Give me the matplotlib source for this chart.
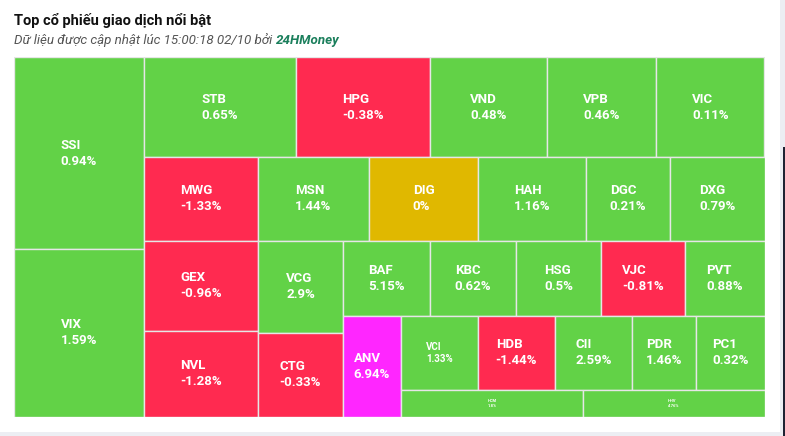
import matplotlib.pyplot as plt
from matplotlib.patches import Rectangle

# ma co phieu, % thay doi, gia tri giao dich (uoc luong tu dien tich o)
tickers = ['SSI', 'VIX', 'STB', 'HPG', 'VND', 'VPB', 'VIC', 'MWG', 'GEX', 'NVL',
           'MSN', 'DIG', 'HAH', 'DGC', 'DXG', 'VCG', 'CTG', 'BAF', 'KBC', 'HSG',
           'VJC', 'PVT', 'ANV', 'VCI', 'HDB', 'CII', 'PDR', 'PC1', 'HCM', 'HHV']
changes = [0.94, 1.59, 0.65, -0.38, 0.48, 0.46, 0.11, -1.33, -0.96, -1.28,
           1.44, 0, 1.16, 0.21, 0.79, 2.9, -0.33, 5.15, 0.62, 0.5,
           -0.81, 0.88, 6.94, 1.33, -1.44, 2.59, 1.46, 0.32, 1.8, 4.76]
values = [248.9, 218.0, 150.8, 132.9, 116.1, 108.1, 107.6, 96.1, 102.6, 97.7,
          93.6, 91.9, 91.0, 70.8, 79.7, 78.2, 71.2, 65.3, 64.5, 63.8,
          63.0, 59.6, 58.4, 57.0, 57.0, 57.0, 47.4, 50.7, 48.6, 48.5]

# nhan nho hon binh thuong
small_labels = {'VCI': 7, 'HCM': 3, 'HHV': 3}

W, H = 750.5, 359.2  # kich thuoc vung treemap (pixel)


def ratio(a, b):
    return max(a / b, b / a)


class Group:
    def __init__(self, w, h):
        self.w, self.h = w, h
        self.d = 0
        self.el = []
        self.total = 0.0
        self.nW = self.lW = self.nH = self.lH = 0.0
        self.lR = self.nR = float('nan')

    def add(self, a):
        last = self.el[-1] if self.el else None
        self.total += a
        if self.d == 0:
            self.lW = self.nW
            self.nW = self.total / self.h
            if last is not None:
                self.lR = ratio(self.lW, last / self.lW)
                self.nR = ratio(self.nW, last / self.nW)
        else:
            self.lH = self.nH
            self.nH = self.total / self.w
            if last is not None:
                self.lR = ratio(last / self.lH, self.lH)
                self.nR = ratio(last / self.nH, self.nH)
        if last is None:
            self.lR = self.nR = float('nan')
        self.el.append(a)


def calc_points(g, last, plot, out):
    gW, gH = (g.nW, g.nH) if last else (g.lW, g.lH)
    keep = None if last else g.el[-1]
    items = g.el if last else g.el[:-1]
    for a in items:
        if g.d == 0:
            w, h = gW, a / gW
            out.append((plot[0], plot[1], w, h))
            plot[1] += h
        else:
            w, h = a / gH, gH
            out.append((plot[0], plot[1], w, h))
            plot[0] += w
    g.el = []
    g.total = 0.0
    g.nW = g.lW = 0.0
    if g.d == 0:
        g.w -= gW
    else:
        g.h -= gH
    plot[0] = W - g.w
    plot[1] = H - g.h
    g.d = 1 - g.d
    if keep is not None:
        g.add(keep)


# layout "squarified" kieu Highcharts (doi huong sau moi hang)
def squarify(vals):
    tot = sum(vals)
    g = Group(W, H)
    plot = [0.0, 0.0]
    out = []
    for i, v in enumerate(vals):
        g.add(W * H * v / tot)
        if g.nR > g.lR:
            calc_points(g, False, plot, out)
        if i == len(vals) - 1:
            calc_points(g, True, plot, out)
    return out


def color_for(c):
    if c >= 6.9:
        return '#ff26ff'
    if c > 0:
        return '#62d247'
    if c < 0:
        return '#ff2a50'
    return '#e0b800'


rects = squarify(values)

fig = plt.figure(figsize=(7.85, 4.36), dpi=100)
fig.patch.set_facecolor('white')

ax = fig.add_axes([14 / 785, (436 - 416.7) / 436, W / 785, H / 436])
ax.set_xlim(0, W)
ax.set_ylim(H, 0)
ax.axis('off')

for (x, y, w, h), t, c in zip(rects, tickers, changes):
    ax.add_patch(Rectangle((x, y), w, h, facecolor=color_for(c),
                           edgecolor='#e6e6e6', linewidth=1))
    fs = small_labels.get(t, 9.5)
    ax.text(x + w / 2, y + h / 2, f'{t}\n{c:g}%', ha='center', va='center',
            multialignment='left', color='white', fontsize=fs,
            fontweight='bold', family='Roboto', linespacing=1.3)

fig.text(14 / 785, 1 - 21 / 436, 'Top cổ phiếu giao dịch nổi bật', fontsize=10.5,
         fontweight='bold', family='Roboto', color='#111111', va='center')
sub = fig.text(14 / 785, 1 - 40 / 436, 'Dữ liệu được cập nhật lúc 15:00:18 02/10 bởi ',
               fontsize=9.6, style='italic', family='Roboto', color='#555555', va='center')
brand = fig.text(0, 0, '24HMoney', fontsize=9.6, style='italic', fontweight='bold',
                 family='Roboto', color='#1b7f5c', va='bottom', ha='left',
                 transform=None)
fig.canvas.draw()
bb = sub.get_window_extent()
brand.set_position((bb.x1, bb.y0))

# khung vien duoi / phai cua trang
fig.add_artist(Rectangle((0, 0), 1, 4 / 436, transform=fig.transFigure,
                         facecolor='#eceef3', edgecolor='none'))
fig.add_artist(Rectangle((780 / 785, 0), 5 / 785, 1, transform=fig.transFigure,
                         facecolor='#eceef3', edgecolor='none'))
fig.add_artist(Rectangle((783 / 785, 0), 2 / 785, 289 / 436, transform=fig.transFigure,
                         facecolor='#1f2233', edgecolor='none'))

fig.savefig('out.png', dpi=100)
